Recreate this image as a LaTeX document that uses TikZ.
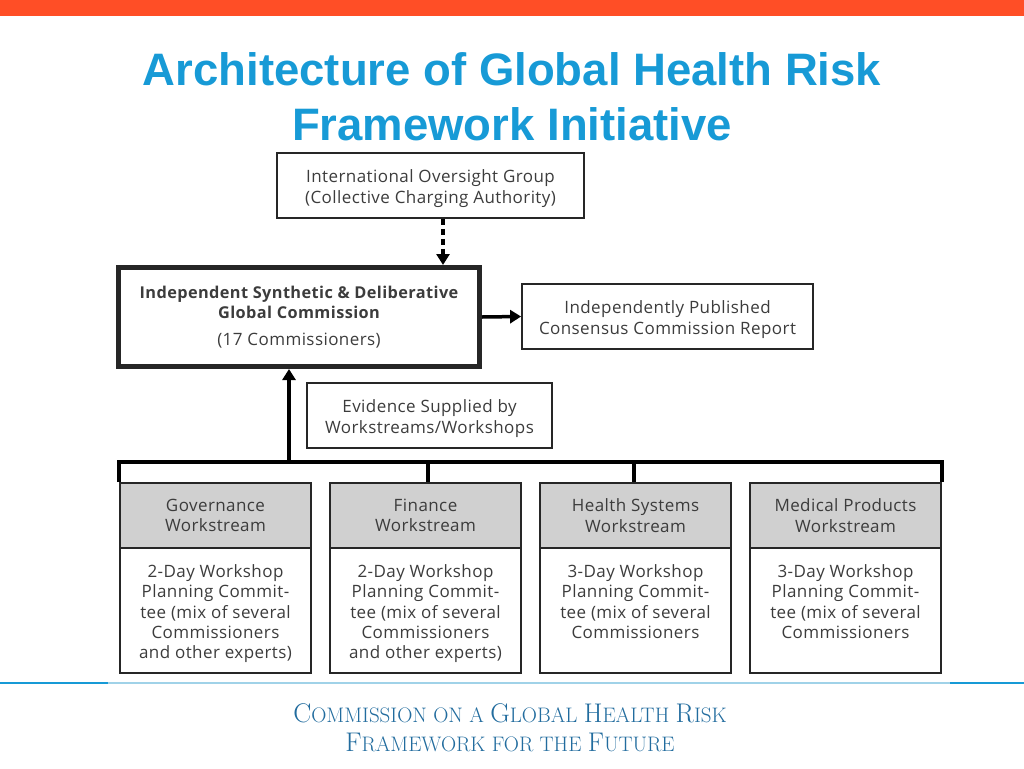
\documentclass[tikz,border=0pt]{standalone}
\usepackage{fontspec}
\setmainfont{Open Sans}[LetterSpace=2.5]
\newfontfamily\titlefont{Liberation Sans}
\newfontfamily\footfont{Latin Modern Roman}
\usetikzlibrary{arrows.meta,positioning}
\definecolor{topbar}{RGB}{255,78,38}
\definecolor{titleblue}{RGB}{23,154,214}
\definecolor{footblue}{RGB}{34,108,158}
\definecolor{linelight}{RGB}{160,210,232}
\definecolor{headgray}{RGB}{208,208,208}
\definecolor{boxtext}{RGB}{60,60,60}
\newcommand\bigC[1]{{\fontsize{27}{29}\selectfont #1}}
\newcommand\lowered[2]{\raisebox{-#1pt}[\height][\depth]{\begin{tabular}{@{}c@{}}#2\end{tabular}}}
\tikzset{
  box/.style={draw=black!85, line width=1.8pt, rectangle, text=boxtext,
    font=\fontsize{17}{20.3}\selectfont, inner sep=0pt},
  bigbox/.style={box, line width=5pt, align=center},
  wshead/.style={box, align=center, fill=headgray, minimum width=191pt, minimum height=65pt},
  wsbody/.style={box, minimum width=191pt, minimum height=125pt},
  arr/.style={line width=3.5pt, -{Triangle[length=11pt,width=13pt]}},
  bus/.style={line width=4pt},
}
\begin{document}
\begin{tikzpicture}[x=1pt,y=-1pt]
\useasboundingbox (0,0) rectangle (1024,768);
\fill[topbar] (0,0) rectangle (1024,16);
\node[text=titleblue, font=\titlefont\bfseries\fontsize{45.5}{55}\selectfont, align=center] (title) at (512,97)
  {Architecture of Global Health Risk\\Framework Initiative};
% top box
\node[box, minimum width=307pt, minimum height=65pt] (iog) at (430.5,185.5)
  {\lowered{3.5}{International Oversight Group\\(Collective Charging Authority)}};
\node[bigbox, minimum width=361pt, minimum height=99pt] (comm) at (299,317)
  {{\fontsize{16.3}{20.3}\selectfont\bfseries Independent Synthetic \& Deliberative}\\{\fontsize{16.3}{20.3}\selectfont\bfseries Global Commission}\\[6pt](17 Commissioners)};
\node[box, minimum width=291pt, minimum height=65pt] (rep) at (667.5,316.5)
  {\lowered{3.5}{Independently Published\\Consensus Commission Report}};
\node[box, minimum width=245pt, minimum height=65pt] (evid) at (429.5,415.5)
  {\lowered{3.5}{Evidence Supplied by\\Workstreams/Workshops}};
% workstreams
\node[wshead] (gh) at (215.5,515.5) {Governance\\Workstream};
\node[wsbody] (gb) at (215.5,610.5) {\lowered{3.5}{2-Day Workshop\\Planning Commit-\\tee (mix of several\\Commissioners\\and other experts)}};
\node[wshead] (fh) at (425.5,515.5) {Finance\\Workstream};
\node[wsbody] (fb) at (425.5,610.5) {\lowered{3.5}{2-Day Workshop\\Planning Commit-\\tee (mix of several\\Commissioners\\and other experts)}};
\node[wshead] (hh) at (635.5,515.5) {Health Systems\\Workstream};
\node[wsbody] (hb) at (635.5,610.5) {\lowered{3.5}{3-Day Workshop\\Planning Commit-\\tee (mix of several\\Commissioners\\\phantom{and other experts)}}};
\node[wshead] (mh) at (845.5,515.5) {Medical Products\\Workstream};
\node[wsbody] (mb) at (845.5,610.5) {\lowered{3.5}{3-Day Workshop\\Planning Commit-\\tee (mix of several\\Commissioners\\\phantom{and other experts)}}};
% connectors
\draw[arr, dashed, dash pattern=on 6pt off 4pt] (iog.south -| 443,0) -- (comm.north -| 443,0);
\draw[arr] (comm.east) -- (rep.west);
\coordinate (busL) at (120,462);
\coordinate (upfoot) at (289,462);
\draw[bus] (gh.north west) |- (busL) -| (mh.north east);
\draw[bus] (fh.north -| 428,0) -- (busL -| 428,0);
\draw[bus] (hh.north -| 634,0) -- (busL -| 634,0);
\draw[arr] (upfoot) -- (comm.south -| upfoot);
% footer line
\draw[line width=1.5pt, linelight] (108,683) -- (950,683);
\draw[line width=1.5pt, titleblue] (0,683) -- (108,683);
\draw[line width=1.5pt, titleblue] (950,683) -- (1024,683);
\node[text=footblue, font=\footfont\fontsize{21}{29}\selectfont, align=center] (foot) at (510,728)
  {\bigC{C}OMMISSION ON A \bigC{G}LOBAL \bigC{H}EALTH \bigC{R}ISK\\\bigC{F}RAMEWORK FOR THE \bigC{F}UTURE};
\end{tikzpicture}
\end{document}
